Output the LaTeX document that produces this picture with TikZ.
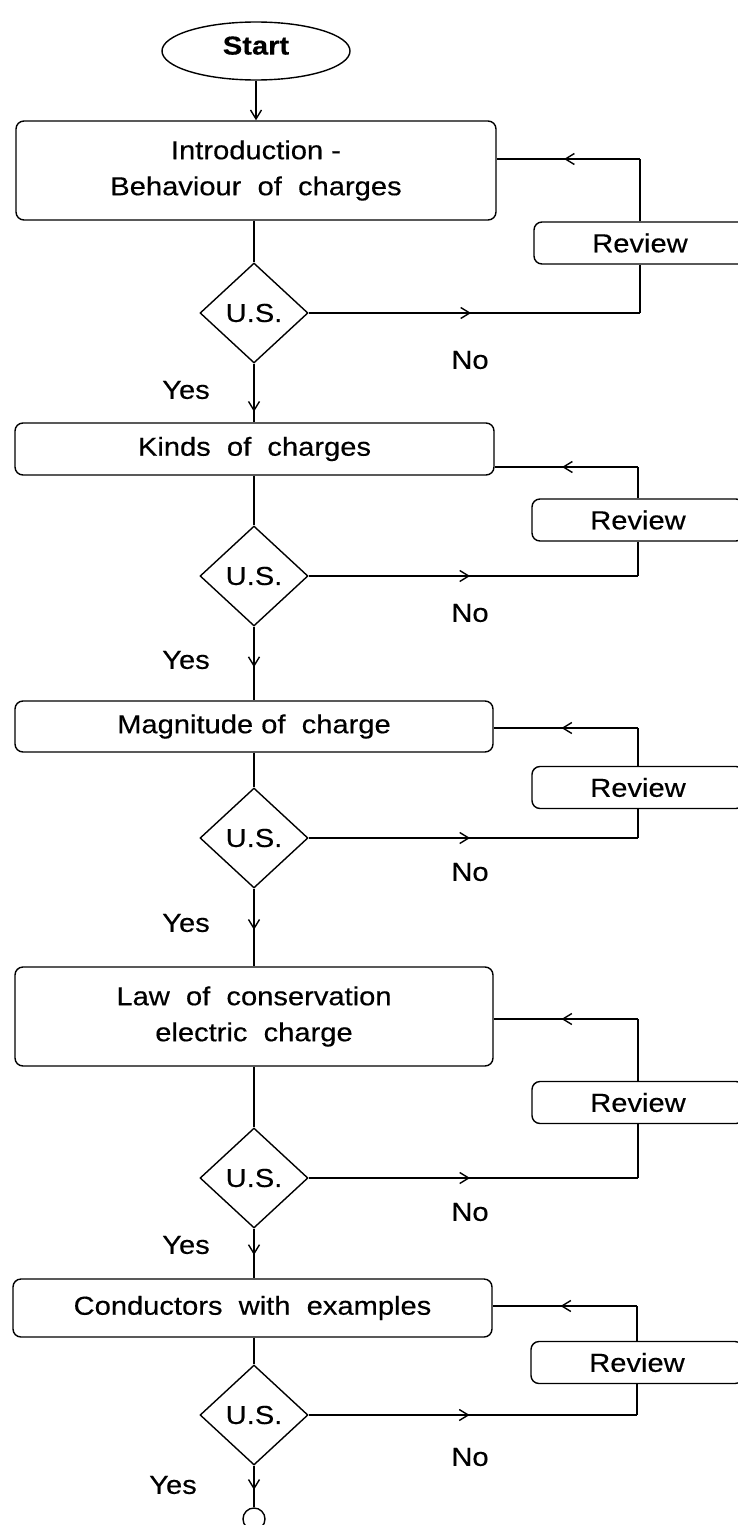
\documentclass[tikz,border=0pt]{standalone}
\usepackage{fontspec}
\setmainfont{Liberation Sans}[FakeStretch=1.12,FakeBold=0.4]
\usetikzlibrary{shapes.geometric,arrows.meta,decorations.markings}
\begin{document}
\begin{tikzpicture}[x=1pt,y=-1pt,line width=1.4pt,
  font=\fontsize{26}{36}\selectfont,
  box/.style={draw,rounded corners=8pt,inner sep=0pt,align=center},
  revbox/.style={draw,fill=white,rounded corners=8pt,inner sep=0pt,minimum width=212pt,minimum height=42pt},
  dia/.style={draw,diamond,inner sep=0pt,minimum width=108pt,minimum height=100pt},
  lbl/.style={inner sep=0pt},
  midarrow/.style={postaction={decorate},decoration={markings,mark=at position #1 with {\arrow{Straight Barb[length=9pt,width=11pt]}}}},
  endarrow/.style={-{Straight Barb[length=9pt,width=11pt]}}]
\useasboundingbox (0,0) rectangle (737,1525);

% start
\node[draw,ellipse,inner sep=0pt,minimum width=188pt,minimum height=58pt] (st) at (256,51) {\raisebox{11pt}{\bfseries Start}};

% block 1
\node[box,minimum width=480pt,minimum height=99pt] (b1) at (256,170.5) {Introduction -\\Behaviour\ \ of\ \ charges};
\node[dia] (d1) at (254,313) {U.S.};
\node[revbox] (r1) at (640,243) {Review};
\node[lbl] (no1) at (470,360) {No};
\node[lbl] (yes1) at (186,390) {Yes};

% block 2
\node[box,minimum width=479pt,minimum height=52pt] (b2) at (254.5,449) {Kinds\ \ of\ \ charges};
\node[dia] (d2) at (254,576) {U.S.};
\node[revbox] (r2) at (638,520) {Review};
\node[lbl] (no2) at (470,613) {No};
\node[lbl] (yes2) at (186,660) {Yes};

% block 3
\node[box,minimum width=478pt,minimum height=51pt] (b3) at (254,726.5) {Magnitude of\ \ charge};
\node[dia] (d3) at (254,838) {U.S.};
\node[revbox] (r3) at (638,787.5) {Review};
\node[lbl] (no3) at (470,872) {No};
\node[lbl] (yes3) at (186,923) {Yes};

% block 4
\node[box,minimum width=478pt,minimum height=99pt] (b4) at (254,1016.5) {Law\ \ of\ \ conservation\\electric\ \ charge};
\node[dia] (d4) at (254,1178) {U.S.};
\node[revbox] (r4) at (638,1102.5) {Review};
\node[lbl] (no4) at (470,1212) {No};
\node[lbl] (yes4) at (186,1245) {Yes};

% block 5
\node[box,minimum width=479pt,minimum height=58pt] (b5) at (252.5,1308) {Conductors\ \ with\ \ examples};
\node[dia] (d5) at (254,1415) {U.S.};
\node[revbox] (r5) at (637,1362.5) {Review};
\node[lbl] (no5) at (470,1457) {No};
\node[lbl] (yes5) at (173,1485) {Yes};

\node[draw,circle,inner sep=0pt,minimum size=22pt] (end) at (254,1519) {};

% main flow
\draw[endarrow] (st.south) -- (st.south |- b1.north);
\draw (d1.north |- b1.south) -- (d1.north);
\draw[midarrow=0.82] (d1.south) -- (d1.south |- b2.north);
\draw (d2.north |- b2.south) -- (d2.north);
\draw[midarrow=0.55] (d2.south) -- (d2.south |- b3.north);
\draw (d3.north |- b3.south) -- (d3.north);
\draw[midarrow=0.53] (d3.south) -- (d3.south |- b4.north);
\draw (d4.north |- b4.south) -- (d4.north);
\draw[midarrow=0.53] (d4.south) -- (d4.south |- b5.north);
\draw (d5.north |- b5.south) -- (d5.north);
\draw[midarrow=0.58] (d5.south) -- (end.north);

% review loops
\coordinate (t1) at (640,159);
\coordinate (t2) at (638,467);
\coordinate (t3) at (638,728);
\coordinate (t4) at (638,1019);
\coordinate (t5) at (637,1306);

\draw[midarrow=0.49] (d1.east) -- (d1.east -| r1.south);
\draw (d1.east -| r1.south) -- (r1.south);
\draw (r1.north) -- (t1);
\draw[midarrow=0.53] (t1) -- (t1 -| b1.east);

\draw[midarrow=0.49] (d2.east) -- (d2.east -| r2.south);
\draw (d2.east -| r2.south) -- (r2.south);
\draw (r2.north) -- (t2);
\draw[midarrow=0.53] (t2) -- (t2 -| b2.east);

\draw[midarrow=0.49] (d3.east) -- (d3.east -| r3.south);
\draw (d3.east -| r3.south) -- (r3.south);
\draw (r3.north) -- (t3);
\draw[midarrow=0.53] (t3) -- (t3 -| b3.east);

\draw[midarrow=0.49] (d4.east) -- (d4.east -| r4.south);
\draw (d4.east -| r4.south) -- (r4.south);
\draw (r4.north) -- (t4);
\draw[midarrow=0.53] (t4) -- (t4 -| b4.east);

\draw[midarrow=0.49] (d5.east) -- (d5.east -| r5.south);
\draw (d5.east -| r5.south) -- (r5.south);
\draw (r5.north) -- (t5);
\draw[midarrow=0.53] (t5) -- (t5 -| b5.east);
\end{tikzpicture}
\end{document}
